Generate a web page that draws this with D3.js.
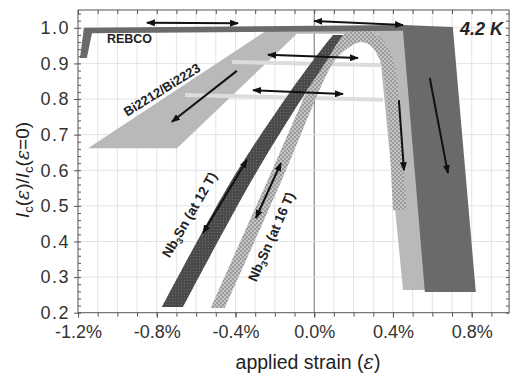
<!DOCTYPE html>
<html>
<head>
<meta charset="utf-8">
<script src="https://cdn.jsdelivr.net/npm/d3@7"></script>
<style>
body { margin: 0; background: #fff; }
text { font-family: "Liberation Sans", Arial, sans-serif; }
</style>
</head>
<body>
<svg width="510" height="375"></svg>
<script>
// values: [strain in %, Ic/Ic0]
var xTicks = [-1.2, -0.8, -0.4, 0.0, 0.4, 0.8];
var yTicks = [0.2, 0.3, 0.4, 0.5, 0.6, 0.7, 0.8, 0.9, 1.0];

var rebco = [[-1.19, 0.915], [-1.155, 0.915], [-1.129, 0.985], [0.451, 0.992], [0.562, 0.258],
             [0.821, 0.258], [0.704, 1.002], [0.451, 1.008], [-1.17, 1.0]];
var bi = [[-1.149, 0.662], [-0.697, 0.662], [-0.088, 0.983], [0.324, 0.983], [0.451, 0.264],
          [0.588, 0.264], [0.476, 1.002], [-0.215, 1.002]];
var biLines = [[[-0.417, 0.904], [0.35, 0.895]], [[-0.656, 0.811], [0.35, 0.798]]];

var nb12Left = [[-0.773, 0.216], [-0.418, 0.573], [-0.123, 0.82], [-0.012, 0.904], [0.059, 0.955], [0.095, 0.98]];
var nb12Right = [[-0.666, 0.216], [-0.316, 0.573], [-0.042, 0.82], [0.059, 0.904], [0.115, 0.955], [0.146, 0.98]];

var nb16Outer = [[-0.525, 0.213], [-0.235, 0.573], [0.029, 0.896], [0.095, 0.952], [0.156, 0.983], [0.222, 0.994],
                 [0.283, 0.992], [0.339, 0.971], [0.385, 0.932], [0.415, 0.881], [0.43, 0.797], [0.446, 0.657], [0.471, 0.488]];
var nb16Inner = [[-0.454, 0.213], [-0.164, 0.573], [0.09, 0.896], [0.146, 0.932], [0.197, 0.952], [0.242, 0.96],
                 [0.288, 0.949], [0.324, 0.921], [0.349, 0.881], [0.37, 0.797], [0.385, 0.657], [0.4, 0.488]];

var doubleArrows = [
  [[-0.85, 1.014], [-0.387, 1.013]],
  [[0.0, 1.019], [0.451, 1.008]],
  [[-0.235, 0.924], [0.222, 0.915]],
  [[-0.311, 0.825], [0.146, 0.814]],
  [[-0.342, 0.629], [-0.565, 0.424]],
  [[-0.169, 0.62], [-0.296, 0.466]]
];
var singleArrows = [
  [[-0.393, 0.879], [-0.723, 0.736]],
  [[0.587, 0.859], [0.679, 0.592]],
  [[0.43, 0.797], [0.456, 0.6]]
];

var svg = d3.select("svg");
var x = d3.scaleLinear().domain([-1.2, 0.99]).range([78, 509.1]);
var y = d3.scaleLinear().domain([0.2, 1.05]).range([312.7, 10]);

var defs = svg.append("defs");
var p12 = defs.append("pattern").attr("id", "p12").attr("patternUnits", "userSpaceOnUse")
  .attr("width", 3).attr("height", 3);
p12.append("rect").attr("width", 3).attr("height", 3).attr("fill", "#4a4a4a");
p12.append("rect").attr("x", 1).attr("y", 1).attr("width", 1).attr("height", 1).attr("fill", "#6c6c6c");
var p16 = defs.append("pattern").attr("id", "p16").attr("patternUnits", "userSpaceOnUse")
  .attr("width", 4).attr("height", 4);
p16.append("rect").attr("width", 4).attr("height", 4).attr("fill", "#9c9c9c");
p16.append("circle").attr("cx", 1).attr("cy", 1).attr("r", 0.9).attr("fill", "#d6d6d6");
p16.append("circle").attr("cx", 3).attr("cy", 3).attr("r", 0.9).attr("fill", "#d6d6d6");
defs.append("marker").attr("id", "head").attr("viewBox", "0 0 9 7")
  .attr("refX", 8).attr("refY", 3.5).attr("markerWidth", 9).attr("markerHeight", 7)
  .attr("markerUnits", "userSpaceOnUse").attr("orient", "auto-start-reverse")
  .append("path").attr("d", "M0,0L9,3.5L0,7Z").attr("fill", "#111");

// grid
svg.append("g").selectAll("line").data(d3.range(-11, 10).map(d => d / 10)).join("line")
  .attr("x1", d => x(d)).attr("x2", d => x(d)).attr("y1", y(1.05)).attr("y2", y(0.2))
  .attr("stroke", d => Math.abs(d) < 1e-9 ? "#707070" : "#e4e4e4").attr("stroke-width", 1);
svg.append("g").selectAll("line").data(yTicks.slice(1)).join("line")
  .attr("x1", x(-1.2)).attr("x2", x(0.99)).attr("y1", d => y(d)).attr("y2", d => y(d))
  .attr("stroke", "#e4e4e4");

var line = d3.line().x(d => x(d[0])).y(d => y(d[1]));
var smooth = d3.line().x(d => x(d[0])).y(d => y(d[1])).curve(d3.curveCatmullRom.alpha(0.5));
function band(a, b) {
  return smooth(a) + "L" + smooth(b.slice().reverse()).slice(1) + "Z";
}

svg.append("path").attr("d", line(bi) + "Z").attr("fill", "#b9b9b9");
svg.append("g").selectAll("path").data(biLines).join("path")
  .attr("d", line).attr("stroke", "#dcdcdc").attr("stroke-width", 4);
svg.append("path").attr("d", band(nb16Outer, nb16Inner)).attr("fill", "url(#p16)");
svg.append("path").attr("d", band(nb12Left, nb12Right)).attr("fill", "url(#p12)");
svg.append("path").attr("d", line(rebco) + "Z").attr("fill", "#6a6a6a");

svg.append("g").selectAll("path").data(doubleArrows).join("path")
  .attr("d", line).attr("stroke", "#111").attr("stroke-width", 2).attr("fill", "none")
  .attr("marker-start", "url(#head)").attr("marker-end", "url(#head)");
svg.append("g").selectAll("path").data(singleArrows).join("path")
  .attr("d", line).attr("stroke", "#111").attr("stroke-width", 2).attr("fill", "none")
  .attr("marker-end", "url(#head)");

// frame and axes
svg.append("rect").attr("x", x(-1.2)).attr("y", y(1.05)).attr("width", x(0.99) - x(-1.2))
  .attr("height", y(0.2) - y(1.05)).attr("fill", "none").attr("stroke", "#555");

var minorX = d3.range(-12, 10).map(d => d / 10);
var minorY = d3.range(10, 53).map(d => d / 50);
svg.append("g").attr("transform", "translate(0," + y(0.2) + ")")
  .call(d3.axisBottom(x).tickValues(minorX).tickSize(4).tickFormat(""))
  .call(g => g.select(".domain").remove());
svg.append("g").attr("transform", "translate(0," + y(1.05) + ")")
  .call(d3.axisBottom(x).tickValues(minorX).tickSize(4).tickFormat(""))
  .call(g => g.select(".domain").remove());
svg.append("g").attr("transform", "translate(" + x(-1.2) + ",0)")
  .call(d3.axisRight(y).tickValues(minorY).tickSize(3).tickFormat(""))
  .call(g => g.select(".domain").remove());
svg.append("g").attr("transform", "translate(" + x(0.99) + ",0)")
  .call(d3.axisLeft(y).tickValues(minorY).tickSize(3).tickFormat(""))
  .call(g => g.select(".domain").remove());

var xAxis = svg.append("g").attr("transform", "translate(0," + y(0.2) + ")")
  .call(d3.axisBottom(x).tickValues(xTicks).tickSize(5).tickPadding(8).tickFormat(d => d.toFixed(1) + "%"));
var yAxis = svg.append("g").attr("transform", "translate(" + x(-1.2) + ",0)")
  .call(d3.axisLeft(y).tickValues(yTicks).tickSize(4).tickPadding(4).tickFormat(d => d.toFixed(1)));
[xAxis, yAxis].forEach(function(g) {
  g.select(".domain").remove();
  g.selectAll("text").attr("fill", "#333").style("font-size", "18px")
    .style("font-family", "'Liberation Sans', Arial, sans-serif");
});
yAxis.selectAll("text").style("letter-spacing", "1.5px");
svg.selectAll(".tick line").attr("stroke", "#555");

// labels
svg.append("text").attr("x", x(-1.053)).attr("y", y(0.957)).attr("fill", "#222")
  .style("font-size", "12.5px").style("font-weight", "bold").text("REBCO");
svg.append("text").attr("transform", "translate(" + x(-0.95) + "," + y(0.75) + ") rotate(-32)")
  .attr("fill", "#222").style("font-size", "13px").style("font-weight", "bold").text("Bi2212/Bi2223");

function nbLabel(px, py, ang, field) {
  var t = svg.append("text").attr("transform", "translate(" + x(px) + "," + y(py) + ") rotate(" + ang + ")")
    .attr("fill", "#222").style("font-size", "13.5px").style("font-weight", "bold");
  t.append("tspan").text("Nb");
  t.append("tspan").attr("dy", 3).style("font-size", "9px").text("3");
  t.append("tspan").attr("dy", -3).text("Sn (at " + field + " T)");
}
nbLabel(-0.735, 0.352, -60, 12);
nbLabel(-0.295, 0.285, -66, 16);

svg.append("text").attr("x", x(0.74)).attr("y", y(0.98)).attr("fill", "#222")
  .style("font-size", "18px").style("font-weight", "bold").style("font-style", "italic").text("4.2 K");

var xt = svg.append("text").attr("x", 308).attr("y", 369)
  .attr("text-anchor", "middle").attr("fill", "#222").style("font-size", "19.5px");
xt.append("tspan").text("applied strain (");
xt.append("tspan").style("font-family", "'DejaVu Serif', serif").style("font-style", "italic").text("ε");
xt.append("tspan").text(")");

var yt = svg.append("text").attr("transform", "translate(29," + 170 + ") rotate(-90)")
  .attr("text-anchor", "middle").attr("fill", "#222").style("font-size", "19px");
yt.append("tspan").style("font-style", "italic").text("I");
yt.append("tspan").attr("dy", 4).style("font-size", "13px").text("c");
yt.append("tspan").attr("dy", -4).text("(");
yt.append("tspan").style("font-family", "'DejaVu Serif', serif").style("font-style", "italic").text("ε");
yt.append("tspan").text(")/");
yt.append("tspan").style("font-style", "italic").text("I");
yt.append("tspan").attr("dy", 4).style("font-size", "13px").text("c");
yt.append("tspan").attr("dy", -4).text("(");
yt.append("tspan").style("font-family", "'DejaVu Serif', serif").style("font-style", "italic").text("ε");
yt.append("tspan").text("=0)");
</script>
</body>
</html>
